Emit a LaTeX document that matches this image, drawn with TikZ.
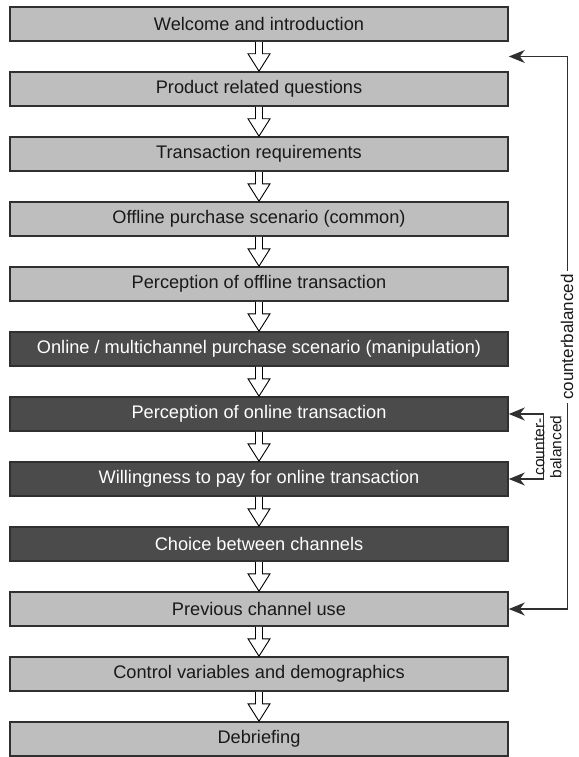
\documentclass[tikz,border=0pt]{standalone}
\usepackage{fontspec}
\setmainfont{Liberation Sans}
\usetikzlibrary{arrows.meta,calc}

\definecolor{boxlight}{HTML}{BEBEBE}
\definecolor{boxdark}{HTML}{4B4B4B}
\definecolor{edge}{HTML}{303030}

\tikzset{
  stage/.style={draw=edge, line width=1.6pt, minimum width=498pt, minimum height=34pt,
    inner sep=0pt, font=\fontsize{18.2}{21}\selectfont, text=black!90},
  lightstage/.style={stage, fill=boxlight},
  darkstage/.style={stage, fill=boxdark, text=white},
  flowarrow/.style={draw=black, fill=white, line width=0.9pt, line join=miter},
  linkline/.style={draw=edge, line width=1.3pt, {Stealth[length=16pt,width=13pt,inset=5pt]}-{Stealth[length=16pt,width=13pt,inset=5pt]}},
  sidelabel/.style={rotate=90, inner sep=1pt, text=black!90}
}

% hollow block arrow from the bottom of one stage to the top of the next
\newcommand{\stagearrow}[2]{%
  \draw[flowarrow] ($(#1.south)+(-3.5,0)$) -- ($(#1.south)+(-3.5,-12)$)
    -- ($(#1.south)+(-11,-12)$) -- (#2.north) -- ($(#1.south)+(11,-12)$)
    -- ($(#1.south)+(3.5,-12)$) -- ($(#1.south)+(3.5,0)$);}

\begin{document}
\begin{tikzpicture}[x=1pt,y=1pt]
\useasboundingbox (0,0) rectangle (578,-757);

\node[lightstage] (s1)  at (259,-24)  {Welcome and introduction};
\node[lightstage] (s2)  at (259,-89)  {Product related questions};
\node[lightstage] (s3)  at (259,-154) {Transaction requirements};
\node[lightstage] (s4)  at (259,-219) {Offline purchase scenario (common)};
\node[lightstage] (s5)  at (259,-284) {Perception of offline transaction};
\node[darkstage]  (s6)  at (259,-349) {Online / multichannel purchase scenario (manipulation)};
\node[darkstage]  (s7)  at (259,-414) {Perception of online transaction};
\node[darkstage]  (s8)  at (259,-479) {Willingness to pay for online transaction};
\node[darkstage]  (s9)  at (259,-544) {Choice between channels};
\node[lightstage] (s10) at (259,-609) {Previous channel use};
\node[lightstage] (s11) at (259,-674) {Control variables and demographics};
\node[lightstage] (s12) at (259,-739) {Debriefing};

\foreach \a/\b in {s1/s2,s2/s3,s3/s4,s4/s5,s5/s6,s6/s7,s7/s8,s8/s9,s9/s10,s10/s11,s11/s12}
  {\stagearrow{\a}{\b}}

% outer counterbalancing loop
\coordinate (loopend) at ($(s1.south east)!0.5!(s2.north east)$);
\draw[linkline] (loopend) -- ++(59,0) |- (s10.east);
\node[sidelabel, fill=white, font=\fontsize{17}{20}\selectfont, inner sep=3pt]
  (outerlabel) at (567,-337) {counterbalanced};

% inner counterbalancing bracket
\draw[linkline] (s7.east) -- ++(35,0) |- (s8.east);
\node[sidelabel, align=center, font=\fontsize{15.5}{17}\selectfont]
  (innerlabel) at (548,-447) {counter-\\balanced};
\end{tikzpicture}
\end{document}
